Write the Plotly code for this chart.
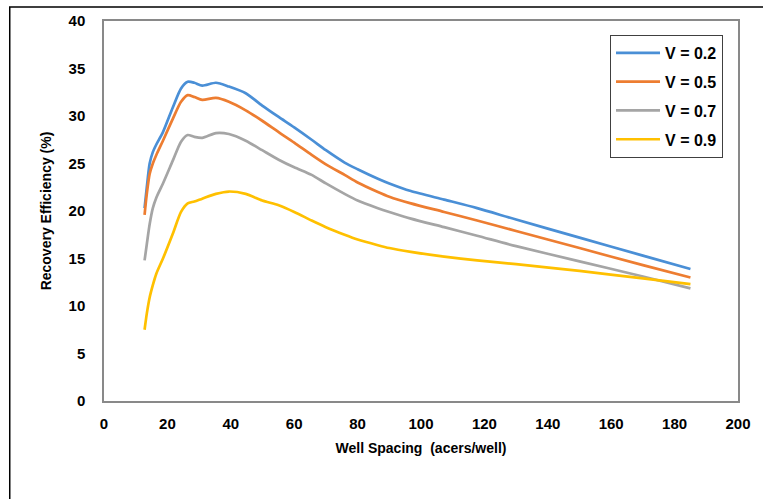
import plotly.graph_objects as go

well_spacing = [12.8, 13.5, 14.4, 15.4, 16.5, 18.6, 21.7, 24.3, 26.4, 28.5, 31.0, 35.3, 39.4,
                44.7, 49.9, 55.1, 60.0, 65.5, 70.0, 75.9, 80.0, 86.4, 90.0, 96.8, 107.3,
                117.7, 130.0, 150.0, 170.0, 185.0]

re_v02 = [20.3, 22.5, 25.0, 26.2, 27.0, 28.3, 30.9, 32.9, 33.6, 33.5, 33.2, 33.5, 33.1,
          32.4, 31.1, 29.9, 28.8, 27.5, 26.4, 25.1, 24.4, 23.4, 22.9, 22.1, 21.2,
          20.3, 19.1, 17.2, 15.3, 13.9]
re_v05 = [19.6, 21.8, 23.9, 25.0, 25.9, 27.4, 29.7, 31.5, 32.2, 32.0, 31.7, 31.9, 31.5,
          30.6, 29.5, 28.3, 27.2, 25.9, 24.9, 23.8, 23.0, 22.0, 21.5, 20.8, 19.9,
          19.0, 17.9, 16.1, 14.3, 13.0]
re_v07 = [14.8, 16.5, 18.6, 20.3, 21.4, 22.9, 25.3, 27.3, 28.0, 27.8, 27.7, 28.2, 28.1,
          27.4, 26.4, 25.4, 24.6, 23.8, 22.9, 21.8, 21.1, 20.3, 19.9, 19.2, 18.3,
          17.4, 16.3, 14.7, 13.1, 11.85]
re_v09 = [7.5, 9.2, 10.9, 12.2, 13.4, 15.0, 17.6, 19.9, 20.8, 21.0, 21.3, 21.8, 22.05,
          21.8, 21.1, 20.6, 19.9, 19.0, 18.3, 17.5, 17.0, 16.4, 16.1, 15.7, 15.2,
          14.8, 14.4, 13.7, 12.9, 12.3]

series_names = ["V = 0.2", "V = 0.5", "V = 0.7", "V = 0.9"]
series_values = [re_v02, re_v05, re_v07, re_v09]
colors = ["#4A8FD6", "#ED7D31", "#A5A5A5", "#FFC000"]

x_ticks = list(range(0, 201, 20))
y_ticks = list(range(0, 41, 5))

fig = go.Figure()
for i, (name, vals, col) in enumerate(zip(series_names, series_values, colors)):
    fig.add_trace(go.Scatter(
        x=well_spacing, y=vals, mode="lines", name=name,
        line=dict(color=col, width=2.7, shape="spline", smoothing=0.7),
        legendgroup=f"g{i}",
    ))

font_bold = "Liberation Sans, Arial, sans-serif"

fig.update_layout(
    width=763, height=499,
    margin=dict(l=104, r=20, t=20, b=98),
    paper_bgcolor="white", plot_bgcolor="white",
    font=dict(family=font_bold, size=15, color="black"),
    showlegend=True,
    legend=dict(
        x=(614 - 104) / 639, y=(401 - 34) / 381, xanchor="left", yanchor="top",
        bgcolor="white", bordercolor="#404040", borderwidth=1,
        font=dict(family=font_bold, size=16, color="black", weight="bold"),
        tracegroupgap=5, itemwidth=44,
    ),
    xaxis=dict(
        range=[0, 200], tickvals=x_ticks, ticktext=[str(v) for v in x_ticks],
        showgrid=False, zeroline=False, showline=True, mirror=True,
        linecolor="#898989", linewidth=1.5, ticks="",
        tickfont=dict(size=15, weight="bold"), ticklabelstandoff=8,
        title=dict(text="Well Spacing  (acers/well)", font=dict(size=14, weight="bold"), standoff=12),
    ),
    yaxis=dict(
        range=[0, 40], tickvals=y_ticks, ticktext=[str(v) for v in y_ticks],
        showgrid=False, zeroline=False, showline=True, mirror=True,
        linecolor="#898989", linewidth=1.5, ticks="",
        tickfont=dict(size=15, weight="bold"), ticklabelstandoff=14,
        title=dict(text="Recovery Efficiency (%)", font=dict(size=14, weight="bold"), standoff=14),
    ),
)

# outer figure border (top and left visible)
fig.add_shape(type="rect", xref="paper", yref="paper",
              x0=(9 - 104) / 639, x1=(775 - 104) / 639,
              y0=(401 - 520) / 381, y1=(401 - 6) / 381,
              line=dict(color="black", width=1.5), fillcolor="rgba(0,0,0,0)", layer="below")

fig.write_html("out.html")
